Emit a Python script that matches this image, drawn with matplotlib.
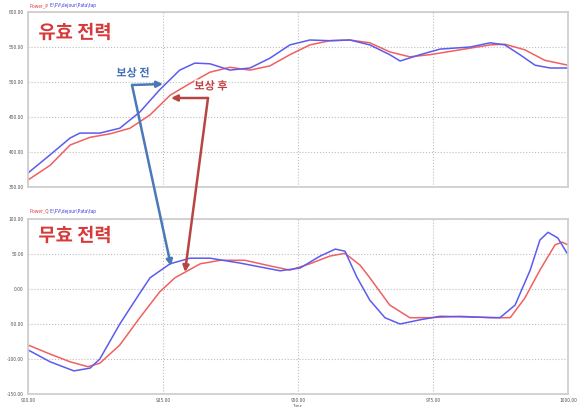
import matplotlib
matplotlib.use("Agg")
from matplotlib import pyplot as plt
import matplotlib.patheffects as pe

plt.rcParams['font.family'] = ['Noto Sans CJK KR', 'DejaVu Sans']

# data -------------------------------------------------------------------
# active power (top)
p_before_t = [900.0, 904.1, 907.8, 909.6, 913.3, 917.0, 920.7, 924.4, 928.1, 930.9,
              933.7, 937.4, 941.1, 944.8, 948.5, 952.2, 955.9, 959.6, 963.3, 967.0,
              968.9, 972.6, 976.3, 981.9, 985.6, 988.3, 991.1, 993.9, 996.7, 1000.0]
p_before = [370, 396, 420, 427, 427, 434, 457, 489, 517, 527,
            526, 517, 520, 534, 553, 560, 559, 560, 553, 539,
            530, 539, 547, 550, 556, 553, 539, 524, 520, 520]

p_after_t = [900.0, 904.1, 907.8, 911.5, 915.2, 918.9, 922.6, 926.3, 930.0, 933.7,
             937.4, 941.1, 944.8, 948.5, 952.2, 955.9, 959.6, 963.3, 967.0, 970.7,
             974.4, 980.0, 985.6, 988.3, 992.0, 995.7, 1000.0]
p_after = [360, 381, 410, 421, 426, 434, 453, 481, 498, 514,
           521, 517, 523, 539, 553, 559, 560, 556, 543, 536,
           539, 546, 553, 554, 546, 531, 524]

# reactive power (bottom)
q_before_t = [900.0, 904.1, 908.5, 911.5, 913.3, 917.0, 920.7, 922.6, 926.3, 930.0,
              933.7, 939.3, 946.7, 950.4, 954.1, 956.9, 958.7, 960.9, 963.3, 966.1,
              968.9, 972.6, 976.3, 981.9, 987.4, 990.2, 993.0, 994.8, 996.3, 998.1,
              1000.0]
q_before = [-87, -104, -117, -113, -100, -50, -6, 16, 36, 44,
            44, 37, 26, 30, 47, 57, 54, 17, -16, -41,
            -50, -44, -39, -40, -41, -23, 27, 70, 81, 73,
            49]

q_after_t = [900.0, 904.1, 907.8, 911.1, 913.3, 917.0, 920.7, 924.4, 927.2, 931.9,
             935.6, 940.2, 944.8, 948.5, 952.2, 955.9, 958.7, 961.5, 963.3, 967.0,
             970.7, 974.4, 980.0, 985.6, 989.3, 992.0, 994.8, 997.6, 998.9, 1000.0]
q_after = [-80, -93, -104, -111, -106, -80, -41, -4, 16, 36,
           41, 41, 33, 27, 36, 47, 51, 34, 16, -23,
           -41, -41, -39, -41, -41, -13, 27, 63, 67, 63]

x_ticks = [900, 925, 950, 975, 1000]
p_ticks = [350, 400, 450, 500, 550, 600]
q_ticks = [-150, -100, -50, 0, 50, 100]

blue = '#5b5bf0'
red = '#f06060'
frame = '#cfcfcf'

fig = plt.figure(figsize=(5.81, 4.07), dpi=100)
ax1 = fig.add_axes([28/581, 1-187/407, 540/581, 175/407])
ax2 = fig.add_axes([28/581, 1-394/407, 540/581, 175/407])


def style(ax, yticks):
    ax.set_xlim(900, 1000)
    ax.set_ylim(yticks[0], yticks[-1])
    ax.set_xticks(x_ticks)
    ax.set_yticks(yticks)
    ax.set_yticklabels(['%.2f' % v for v in yticks])
    ax.tick_params(length=0, labelsize=3.5, labelcolor='#555555', pad=3)
    ax.grid(True, linestyle=':', color='#bdbdbd', linewidth=0.8)
    for s in ax.spines.values():
        s.set_color(frame)
        s.set_linewidth(1.3)


style(ax1, p_ticks)
ax1.set_xticklabels([])
ax1.plot(p_after_t, p_after, color=red, lw=1.1)
ax1.plot(p_before_t, p_before, color=blue, lw=1.1)

style(ax2, q_ticks)
ax2.set_xticklabels(['%.2f' % v for v in x_ticks])
ax2.plot(q_after_t, q_after, color=red, lw=1.1)
ax2.plot(q_before_t, q_before, color=blue, lw=1.1)
ax2.set_xlabel('Time', fontsize=3, color='#555555', labelpad=0.5)

# small header labels
fig.text(29/581, 1-6/407, 'Power_P', fontsize=3.3, color='#e03030', va='center')
fig.text(49/581, 1-6/407, 'E:\\FV\\dejour\\Pata\\tap', fontsize=3.3, color='#3030e0', va='center')
fig.text(29/581, 1-211/407, 'Power_Q', fontsize=3.3, color='#e03030', va='center')
fig.text(49/581, 1-211/407, 'E:\\FV\\dejour\\Pata\\tap', fontsize=3.3, color='#3030e0', va='center')

# big titles
fx = [pe.SimplePatchShadow(offset=(1.2, -1.2), shadow_rgbFace='#888888', alpha=0.6),
      pe.withStroke(linewidth=3, foreground='white')]
fig.text(75/581, 1-33/407, '유효 전력', fontsize=13.5, weight='bold', color='#d63a3a',
         ha='center', va='center', path_effects=fx)
fig.text(75/581, 1-236/407, '무효 전력', fontsize=13.5, weight='bold', color='#d63a3a',
         ha='center', va='center', path_effects=fx)

fx2 = [pe.withStroke(linewidth=2, foreground='white')]
fig.text(133/581, 1-73/407, '보상 전', fontsize=8, weight='bold', color='#3f6fb5',
         ha='center', va='center', path_effects=fx2)
fig.text(211/581, 1-86/407, '보상 후', fontsize=8, weight='bold', color='#c04040',
         ha='center', va='center', path_effects=fx2)


def fpt(x, y):
    return (x/581, 1-y/407)


def arrow(p0, p1, color):
    fig.add_artist(matplotlib.patches.FancyArrowPatch(
        fpt(*p0), fpt(*p1), transform=fig.transFigure, arrowstyle='-|>',
        mutation_scale=9, color=color, lw=1.8, shrinkA=0, shrinkB=0))


# blue arrow
arrow((132, 85), (163, 84), '#4a78b8')
arrow((132, 85), (171, 266), '#4a78b8')
# red arrow
arrow((208, 98), (171, 98), '#b84444')
arrow((208, 98), (185, 272), '#b84444')

plt.savefig('out.png', dpi=100)
plt.close()
